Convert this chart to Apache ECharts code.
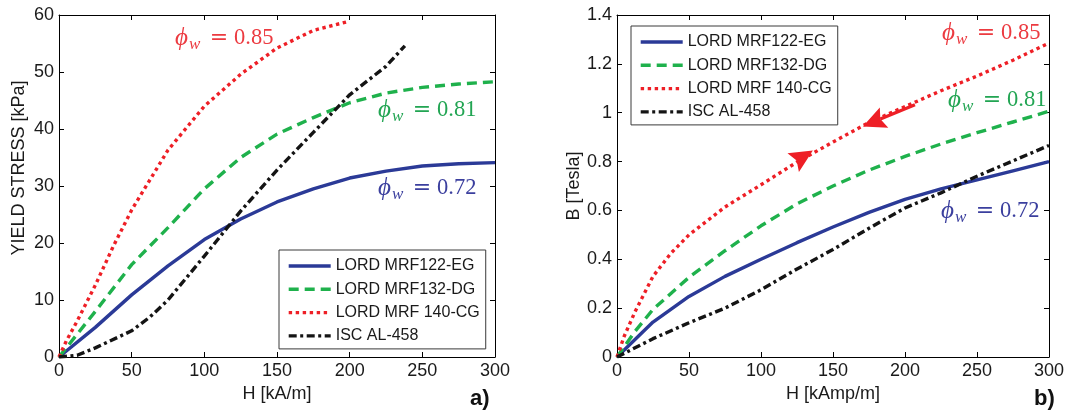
<!DOCTYPE html>
<html>
<head>
<meta charset="utf-8">
<script src="https://cdn.jsdelivr.net/npm/echarts@6/dist/echarts.min.js"></script>
<style>
  html, body { margin: 0; padding: 0; background: #ffffff; }
  #chart { width: 1072px; height: 412px; }
</style>
</head>
<body>
<div id="chart"></div>
<script>
// Fluid names (shared by both panels)
const fluidNames = ['LORD MRF122-EG', 'LORD MRF132-DG', 'LORD MRF 140-CG', 'ISC AL-458'];

// Panel a) yield stress [kPa] vs H [kA/m]
const yieldMRF122 = [[0,0],[25,5.2],[50,10.9],[75,16.0],[100,20.6],[125,24.2],[150,27.2],[175,29.5],[200,31.4],[225,32.6],[250,33.5],[275,33.9],[300,34.1]];
const yieldMRF132 = [[0,0],[25,8.0],[50,16.2],[75,22.7],[100,29.5],[125,35.0],[150,39.1],[175,42.0],[200,44.6],[225,46.3],[250,47.3],[275,47.9],[300,48.3]];
const yieldMRF140 = [[0,0],[5,2.8],[12.5,6.3],[25,12.6],[37.5,19.5],[50,25.8],[75,36.3],[100,44.0],[125,49.6],[150,54.2],[175,57.3],[198,58.8]];
const yieldAL458  = [[0,0],[12.5,0.3],[25,1.6],[50,4.6],[62.5,7.0],[75,10.0],[100,17.7],[125,25.6],[150,32.8],[175,39.4],[200,46.0],[225,51.0],[238,54.6]];

// Panel b) flux density B [Tesla] vs H [kAmp/m]
const fluxMRF122 = [[0,0],[25,0.143],[50,0.248],[75,0.330],[100,0.400],[125,0.468],[150,0.532],[175,0.592],[200,0.645],[225,0.688],[250,0.725],[275,0.762],[300,0.800]];
const fluxMRF132 = [[0,0],[12.5,0.105],[25,0.195],[50,0.326],[75,0.435],[100,0.537],[125,0.627],[150,0.700],[175,0.765],[200,0.821],[225,0.872],[250,0.918],[275,0.962],[300,1.006]];
const fluxMRF140 = [[0,0],[5,0.085],[12.5,0.185],[25,0.330],[37.5,0.425],[50,0.500],[75,0.614],[100,0.705],[125,0.798],[150,0.880],[175,0.960],[200,1.025],[225,1.090],[250,1.150],[275,1.215],[300,1.285]];
const fluxAL458  = [[0,0],[25,0.075],[50,0.140],[75,0.200],[100,0.275],[125,0.360],[150,0.440],[175,0.527],[200,0.610],[225,0.672],[250,0.740],[275,0.803],[300,0.866]];

// Direction arrows on the MRF 140-CG curve of panel b): [H tail, B tail, H tip, B tip]
const fluxArrows = [[121.8, 0.794, 136.0, 0.845], [206.9, 1.033, 170.7, 0.944]];

// Volume fraction annotations
const phiLabels = [
  { value: '0.85', color: '#ec3a40', x: 176, y: 38 },
  { value: '0.81', color: '#22a553', x: 379, y: 110 },
  { value: '0.72', color: '#3b3f9e', x: 379, y: 188 },
  { value: '0.85', color: '#ec3a40', x: 943, y: 33 },
  { value: '0.81', color: '#22a553', x: 949, y: 100 },
  { value: '0.72', color: '#3b3f9e', x: 942, y: 211 }
];

const lineLooks = [
  { color: '#2b3a97', type: 'solid' },
  { color: '#1fb14c', type: [10, 6] },
  { color: '#ee1f26', type: [3.4, 3.6] },
  { color: '#141414', type: [8, 3.5, 3, 3.5] }
];

const sansFont = '"Liberation Sans", Arial, Helvetica, sans-serif';
const serifFont = '"Liberation Serif", "DejaVu Serif", serif';

const grids = [
  { left: 59, top: 15, width: 436, height: 342 },
  { left: 617, top: 15, width: 432, height: 342 }
];

function xAxisPair(gridIndex, name) {
  const common = {
    type: 'value', gridIndex, min: 0, max: 300, interval: 50,
    axisLine: { show: true, onZero: false, lineStyle: { color: '#000', width: 1 } },
    axisTick: { show: true, inside: true, length: 5, lineStyle: { color: '#000' } },
    splitLine: { show: false }
  };
  return [
    Object.assign({}, common, {
      position: 'bottom', name, nameLocation: 'middle', nameGap: 27,
      nameTextStyle: { fontFamily: sansFont, fontSize: 18, color: '#1a1a1a' },
      axisLabel: { fontFamily: sansFont, fontSize: 18, color: '#1a1a1a', margin: 5 }
    }),
    Object.assign({}, common, { position: 'top', axisLabel: { show: false } })
  ];
}

function yAxisPair(gridIndex, name, max, interval, nameShift) {
  const common = {
    type: 'value', gridIndex, min: 0, max, interval,
    axisLine: { show: true, onZero: false, lineStyle: { color: '#000', width: 1 } },
    axisTick: { show: true, inside: true, length: 5, lineStyle: { color: '#000' } },
    splitLine: { show: false }
  };
  return [
    Object.assign({}, common, {
      position: 'left', name, nameLocation: 'middle', nameGap: 31, nameRotate: 90,
      nameTextStyle: { fontFamily: sansFont, fontSize: 18, color: '#1a1a1a', padding: [0, 0, 0, nameShift] },
      axisLabel: { fontFamily: sansFont, fontSize: 18, color: '#1a1a1a', margin: 5 }
    }),
    Object.assign({}, common, { position: 'right', axisLabel: { show: false } })
  ];
}

function lineSeries(name, data, look, xi, yi) {
  return {
    type: 'line', name, data, xAxisIndex: xi, yAxisIndex: yi,
    symbol: 'none', smooth: false, animation: false,
    lineStyle: { color: look.color, width: 3.4, type: look.type, cap: 'butt', join: 'round' },
    itemStyle: { color: look.color }
  };
}

const panelA = [yieldMRF122, yieldMRF132, yieldMRF140, yieldAL458];
const panelB = [fluxMRF122, fluxMRF132, fluxMRF140, fluxAL458];

const series = [];
panelA.forEach((d, i) => series.push(lineSeries(fluidNames[i], d, lineLooks[i], 0, 0)));
panelB.forEach((d, i) => series.push(lineSeries(fluidNames[i], d, lineLooks[i], 2, 2)));

// Arrow heads drawn in pixel space from data endpoints
series.push({
  type: 'custom', name: 'arrows', xAxisIndex: 2, yAxisIndex: 2, data: fluxArrows, z: 5,
  animation: false,
  renderItem(params, api) {
    const p0 = api.coord([api.value(0), api.value(1)]);
    const p1 = api.coord([api.value(2), api.value(3)]);
    const dx = p1[0] - p0[0], dy = p1[1] - p0[1];
    const len = Math.hypot(dx, dy);
    const ux = dx / len, uy = dy / len, nx = -uy, ny = ux;
    const L = 23, half = 11, notch = 4;
    const bx = p1[0] - ux * L, by = p1[1] - uy * L;
    const children = [];
    if (len > L + 2) {
      children.push({
        type: 'line',
        shape: { x1: p0[0], y1: p0[1], x2: bx + ux * notch, y2: by + uy * notch },
        style: { stroke: '#ee1f26', lineWidth: 3.2 }
      });
    }
    children.push({
      type: 'polygon',
      shape: { points: [p1, [bx + nx * half, by + ny * half], [bx + ux * notch, by + uy * notch], [bx - nx * half, by - ny * half]] },
      style: { fill: '#ee1f26' }
    });
    return { type: 'group', children };
  }
});

function legendFor(left, top) {
  return {
    orient: 'vertical', left, top, align: 'left',
    data: fluidNames,
    itemWidth: 42, itemHeight: 14, itemGap: 7.3,
    padding: [8, 6, 5, 8],
    backgroundColor: '#ffffff', borderColor: '#3a3a3a', borderWidth: 1,
    lineStyle: { width: 3.4 },
    // line series legend icons carry a marker; keep only the line sample
    itemStyle: { opacity: 0 },
    textStyle: { fontFamily: sansFont, fontSize: 16, color: '#1a1a1a', lineHeight: 16 },
    selectedMode: false
  };
}

function phiGraphic(lbl) {
  return {
    type: 'group', x: lbl.x, y: lbl.y, z: 10,
    children: [
      { type: 'text', x: -1, y: 0, style: { text: '\u03D5', fill: lbl.color, fontFamily: serifFont, fontStyle: 'italic', fontSize: 25, verticalAlign: 'middle', align: 'left' } },
      { type: 'text', x: 13, y: 7, style: { text: 'w', fill: lbl.color, fontFamily: serifFont, fontStyle: 'italic', fontSize: 17, verticalAlign: 'middle', align: 'left' } },
      { type: 'text', x: 43, y: 0, style: { text: '=', fill: lbl.color, fontFamily: '"DejaVu Serif", serif', fontSize: 22, verticalAlign: 'middle', align: 'center' } },
      { type: 'text', x: 58, y: 0, style: { text: lbl.value, fill: lbl.color, fontFamily: serifFont, fontSize: 22.5, verticalAlign: 'middle', align: 'left' } }
    ]
  };
}

const graphics = phiLabels.map(phiGraphic);
graphics.push({ type: 'text', left: 470, top: 388, z: 10, style: { text: 'a)', fill: '#111', fontFamily: sansFont, fontWeight: 'bold', fontSize: 22 } });
graphics.push({ type: 'text', left: 1034, top: 388, z: 10, style: { text: 'b)', fill: '#111', fontFamily: sansFont, fontWeight: 'bold', fontSize: 22 } });

const xa = xAxisPair(0, 'H [kA/m]');
const xb = xAxisPair(1, 'H [kAmp/m]');
const ya = yAxisPair(0, 'YIELD STRESS [kPa]', 60, 10, 36);
const yb = yAxisPair(1, 'B [Tesla]', 1.4, 0.2, 0);

const chart = echarts.init(document.getElementById('chart'), null, { renderer: 'canvas' });
chart.setOption({
  backgroundColor: '#ffffff',
  animation: false,
  grid: grids,
  xAxis: [xa[0], xa[1], xb[0], xb[1]],
  yAxis: [ya[0], ya[1], yb[0], yb[1]],
  legend: [legendFor(279, 250), legendFor(631, 26)],
  series,
  graphic: graphics
});
</script>
</body>
</html>
